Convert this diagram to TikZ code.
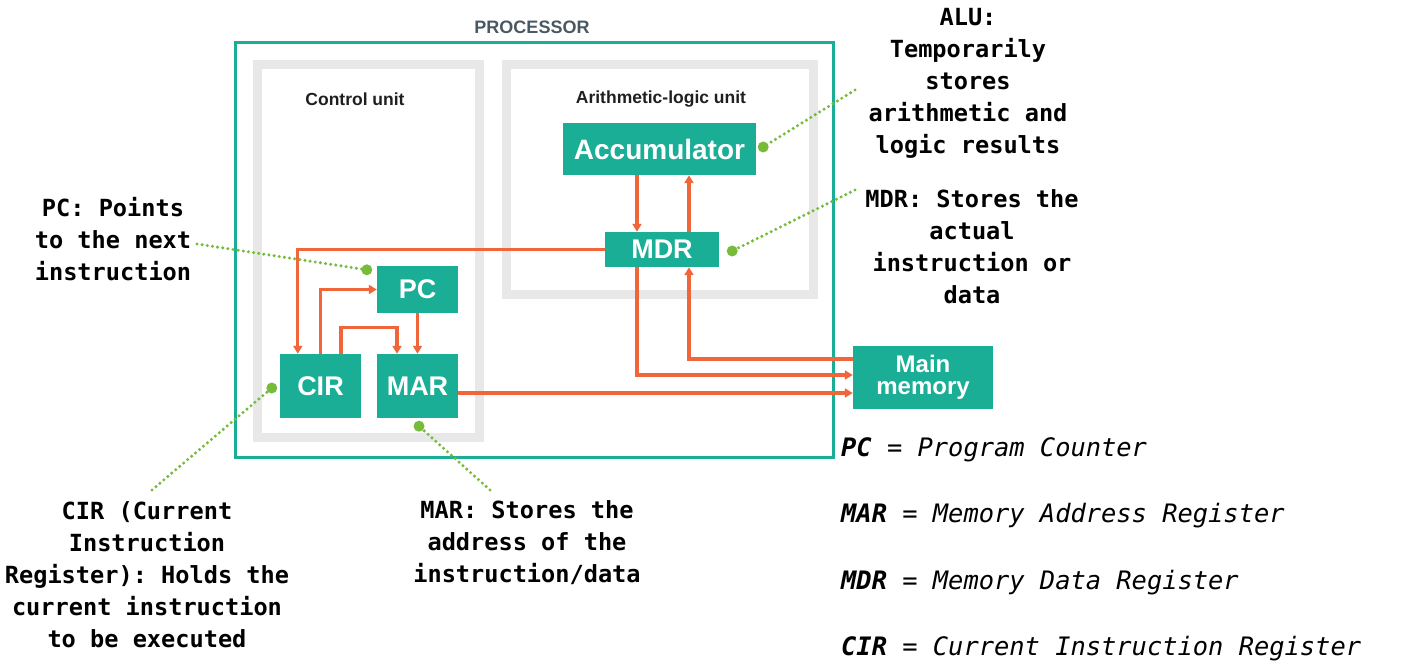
\documentclass[tikz,border=0pt]{standalone}
\usepackage{fontspec}
\setmainfont{Liberation Sans}
\setmonofont{DejaVu Sans Mono}
\usetikzlibrary{arrows.meta,calc}
\definecolor{tealA}{HTML}{1AAE96}
\definecolor{orng}{HTML}{F0653A}
\definecolor{framegray}{HTML}{E8E8E8}
\definecolor{grn}{HTML}{76BC3A}
\definecolor{procgray}{HTML}{4A5862}
\begin{document}
\begin{tikzpicture}[x=1pt,y=-1pt,
  reg/.style={fill=tealA, text=white, inner sep=0pt, font=\bfseries\fontsize{27}{27}\selectfont},
  flow/.style={draw=orng, line width=3.2pt, -{Triangle[length=8pt,width=9pt]}},
  noteline/.style={draw=grn, line width=3.4pt, line cap=round, dash pattern=on 0pt off 5.2pt},
  notetext/.style={align=center, font=\ttfamily\bfseries\fontsize{23.6}{32}\selectfont, text=black, inner sep=0pt},
  legend/.style={anchor=west, font=\ttfamily\itshape\fontsize{25.4}{30}\selectfont, inner sep=0pt},
  unitlabel/.style={font=\bfseries\fontsize{17.5}{20}\selectfont, text=black!88, inner sep=0pt}
]
\useasboundingbox (0,0) rectangle (1406,663);

% frames
\node[draw=tealA, line width=3pt, minimum width=598pt, minimum height=414pt, inner sep=0pt] (proc) at (534,250) {};
\node[draw=framegray, line width=9pt, minimum width=222pt, minimum height=373pt, inner sep=0pt] (cu) at (368.5,251) {};
\node[draw=framegray, line width=9pt, minimum width=307pt, minimum height=230pt, inner sep=0pt] (alu) at (660,179.5) {};

% labels
\node[font=\bfseries\fontsize{18}{20}\selectfont, text=procgray, inner sep=0pt] (proclbl) at (532,27) {PROCESSOR};
\node[unitlabel] (culbl) at (355,99) {Control unit};
\node[unitlabel] (alulbl) at (661,99) {Arithmetic-logic unit};

% registers
\node[reg, minimum width=193pt, minimum height=52pt, font=\bfseries\fontsize{28}{28}\selectfont] (acc) at (659.5,149) {Accumulator};
\node[reg, minimum width=114pt, minimum height=35pt] (mdr) at (662,249.5) {MDR};
\node[reg, minimum width=81pt, minimum height=47pt] (pc) at (417.5,289.5) {PC};
\node[reg, minimum width=81pt, minimum height=64pt] (cir) at (320.5,386) {CIR};
\node[reg, minimum width=81pt, minimum height=64pt] (mar) at (417.5,386) {MAR};
\node[reg, minimum width=140pt, minimum height=63pt, align=center, font=\bfseries\fontsize{24}{22}\selectfont] (mem) at (923,377.5) {Main\\memory};

% connectors
\coordinate (dl) at ([xshift=-25pt]mdr.north);
\coordinate (ul) at ([xshift=27pt]mdr.north);
\draw[flow] (dl |- acc.south) -- (dl);
\draw[flow] (ul) -- (ul |- acc.south);
\draw[flow] (mdr.west) -| ([xshift=18pt]cir.north west);
\draw[flow] (cir.north) |- (pc.west);
\draw[flow] ([xshift=20.5pt]cir.north) -- ++(0,-26) -| ([xshift=-20.5pt]mar.north);
\draw[flow] (pc.south) -- (mar.north);
\draw[flow] ([xshift=-25pt]mdr.south) |- ([yshift=2.5pt]mem.west);
\draw[flow] ([yshift=18.5pt]mem.west) -| ([xshift=27pt]mdr.south);
\coordinate (m9) at ([yshift=-7pt]mar.east);
\draw[flow] (m9) -- (m9 -| mem.west);

% annotations
\node[notetext] (pcnote) at (113,239) {PC: Points\\to the next\\instruction};
\node[notetext] (alunote) at (968,83) {ALU:\\Temporarily\\stores\\arithmetic and\\logic results};
\node[notetext] (mdrnote) at (972,246.5) {MDR: Stores the\\actual\\instruction or\\data};
\node[notetext] (cirnote) at (147,575) {CIR (Current\\Instruction\\Register): Holds the\\current instruction\\to be executed};
\node[notetext] (marnote) at (527,543) {MAR: Stores the\\address of the\\instruction/data};

\coordinate (pcdot) at ([xshift=-10pt,yshift=-4pt]pc.north west);
\coordinate (cirdot) at ([xshift=-8pt,yshift=-2pt]cir.west);
\coordinate (mardot) at ([xshift=1.5pt,yshift=-8pt]mar.south);
\coordinate (accdot) at ([xshift=7pt,yshift=2pt]acc.east);
\coordinate (mdrdot) at ([xshift=13pt,yshift=-1.5pt]mdr.east);

\coordinate (pcend) at (197,244);
\coordinate (aluend) at (855,90);
\coordinate (mdrend) at (855,190);
\coordinate (cirend) at (152,490);
\coordinate (marend) at (490,490);

\draw[noteline] (pcend) -- (pcdot);
\draw[noteline] (aluend) -- (accdot);
\draw[noteline] (mdrend) -- (mdrdot);
\draw[noteline] (cirend) -- (cirdot);
\draw[noteline] (marend) -- (mardot);
\foreach \d in {pcdot,cirdot,mardot,accdot,mdrdot} \fill[grn] (\d) circle (5.5);

% legend
\node[legend] (leg1) at (841,450) {\textbf{PC} = Program Counter};
\node[legend] (leg2) at (841,516) {\textbf{MAR} = Memory Address Register};
\node[legend] (leg3) at (841,583) {\textbf{MDR} = Memory Data Register};
\node[legend] (leg4) at (841,649) {\textbf{CIR} = Current Instruction Register};
\end{tikzpicture}
\end{document}
